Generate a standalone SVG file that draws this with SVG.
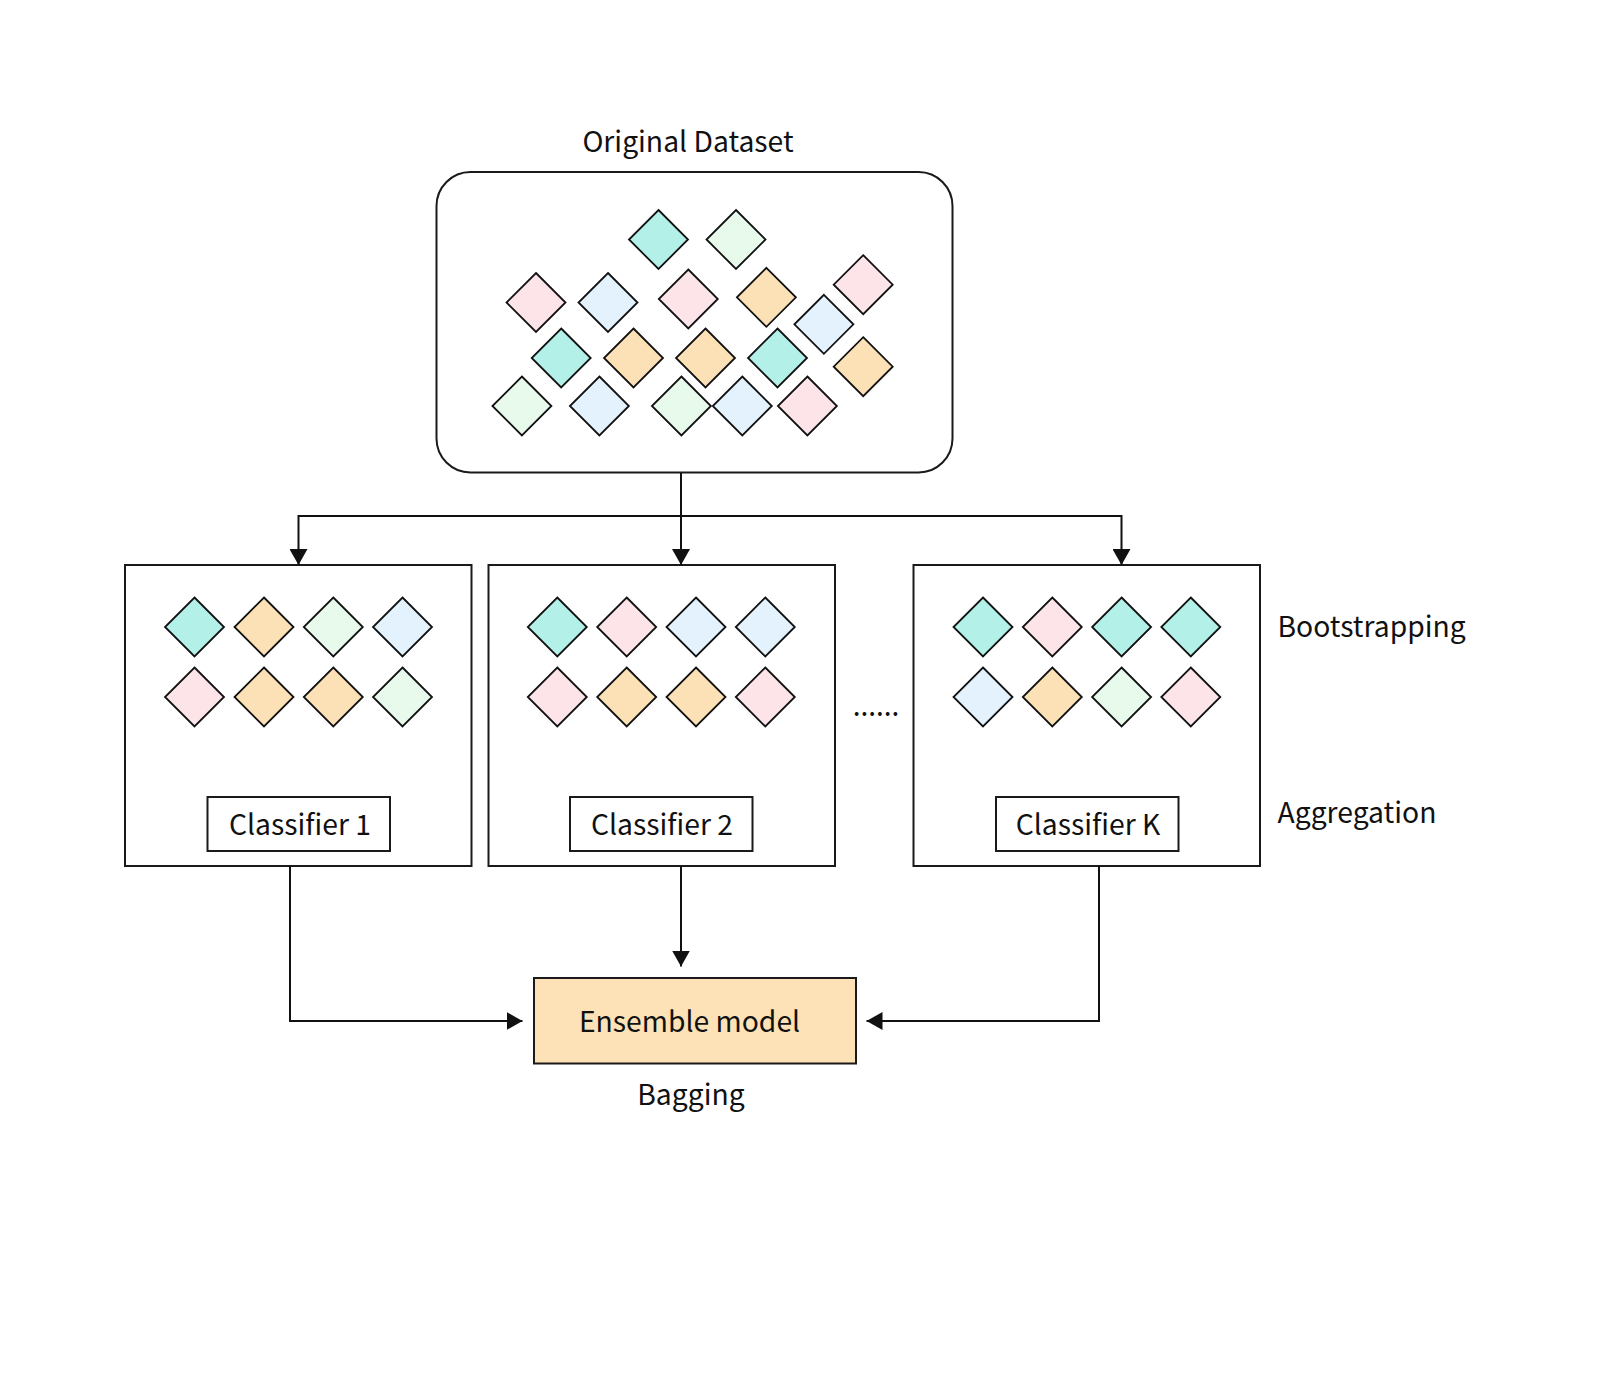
<svg xmlns="http://www.w3.org/2000/svg" width="1600" height="1399" viewBox="0 0 1600 1399">
<style>
  text { font-family: 'Noto Sans CJK SC', 'Noto Sans', sans-serif; fill: #111; }
  .lbl { font-size: 28.3px; }
  .box { fill: #fff; stroke: #1a1a1a; stroke-width: 2; }
  .d { stroke: #111; stroke-width: 1.8; stroke-linejoin: miter; }
  .teal { fill: #b3f0e8; }
  .green { fill: #e7faec; }
  .pink { fill: #fce4e9; }
  .blue { fill: #e3f2fc; }
  .orange { fill: #fde1b6; }
  .conn { fill: none; stroke: #111; stroke-width: 2; }
</style>
<defs>
  <path id="dm" d="M0,-29.5 L29.5,0 L0,29.5 L-29.5,0 Z"/>
  <marker id="arr" viewBox="0 0 16 18" refX="16" refY="9" markerWidth="16" markerHeight="18" markerUnits="userSpaceOnUse" orient="auto">
    <path d="M0,0 L16,9 L0,18 Z" fill="#111"/>
  </marker>
</defs>
<rect width="1600" height="1399" fill="#fff"/>

<g id="original-dataset">
  <text class="lbl" x="688" y="151.5" text-anchor="middle">Original Dataset</text>
  <rect class="box" x="436.5" y="172" width="516" height="300.5" rx="34" ry="34"/>
  <use href="#dm" class="d teal" x="658.5" y="239.5"/>
  <use href="#dm" class="d green" x="736" y="239.5"/>
  <use href="#dm" class="d pink" x="536" y="302.5"/>
  <use href="#dm" class="d blue" x="608" y="302.5"/>
  <use href="#dm" class="d pink" x="688.3" y="299"/>
  <use href="#dm" class="d orange" x="766.4" y="297.3"/>
  <use href="#dm" class="d pink" x="863.2" y="284.7"/>
  <use href="#dm" class="d blue" x="823.9" y="324.3"/>
  <use href="#dm" class="d teal" x="561.2" y="358"/>
  <use href="#dm" class="d orange" x="633.5" y="358"/>
  <use href="#dm" class="d orange" x="705.5" y="358"/>
  <use href="#dm" class="d teal" x="777.5" y="358"/>
  <use href="#dm" class="d orange" x="863.2" y="366.7"/>
  <use href="#dm" class="d green" x="521.9" y="406"/>
  <use href="#dm" class="d blue" x="599.4" y="406"/>
  <use href="#dm" class="d green" x="681.4" y="406"/>
  <use href="#dm" class="d blue" x="742.3" y="406"/>
  <use href="#dm" class="d pink" x="807.4" y="406"/>
</g>

<g id="classifier-1">
  <rect class="box" x="125" y="565" width="346.5" height="301"/>
  <use href="#dm" class="d teal" x="194.5" y="627"/>
  <use href="#dm" class="d orange" x="264" y="627"/>
  <use href="#dm" class="d green" x="333.3" y="627"/>
  <use href="#dm" class="d blue" x="402.5" y="627"/>
  <use href="#dm" class="d pink" x="194.5" y="697"/>
  <use href="#dm" class="d orange" x="264" y="697"/>
  <use href="#dm" class="d orange" x="333.3" y="697"/>
  <use href="#dm" class="d green" x="402.5" y="697"/>
  <rect class="box" x="207.5" y="797" width="182.5" height="54"/>
  <text class="lbl" x="300" y="834.5" text-anchor="middle">Classifier 1</text>
</g>

<g id="classifier-2">
  <rect class="box" x="488.5" y="565" width="346.5" height="301"/>
  <use href="#dm" class="d teal" x="557.3" y="627"/>
  <use href="#dm" class="d pink" x="626.7" y="627"/>
  <use href="#dm" class="d blue" x="696" y="627"/>
  <use href="#dm" class="d blue" x="765.3" y="627"/>
  <use href="#dm" class="d pink" x="557.3" y="697"/>
  <use href="#dm" class="d orange" x="626.7" y="697"/>
  <use href="#dm" class="d orange" x="696" y="697"/>
  <use href="#dm" class="d pink" x="765.3" y="697"/>
  <rect class="box" x="570" y="797" width="182.5" height="54"/>
  <text class="lbl" x="662" y="834.5" text-anchor="middle">Classifier 2</text>
</g>

<g id="ellipsis">
  <text x="876" y="716" text-anchor="middle" style="font-size:28px">......</text>
</g>

<g id="classifier-k">
  <rect class="box" x="913.5" y="565" width="346.5" height="301"/>
  <use href="#dm" class="d teal" x="983" y="627"/>
  <use href="#dm" class="d pink" x="1052.3" y="627"/>
  <use href="#dm" class="d teal" x="1121.6" y="627"/>
  <use href="#dm" class="d teal" x="1190.8" y="627"/>
  <use href="#dm" class="d blue" x="983" y="697"/>
  <use href="#dm" class="d orange" x="1052.3" y="697"/>
  <use href="#dm" class="d green" x="1121.6" y="697"/>
  <use href="#dm" class="d pink" x="1190.8" y="697"/>
  <rect class="box" x="996" y="797" width="182.5" height="54"/>
  <text class="lbl" x="1088" y="834.5" text-anchor="middle">Classifier K</text>
</g>

<g id="side-labels">
  <text class="lbl" x="1277.5" y="636.5">Bootstrapping</text>
  <text class="lbl" x="1277.5" y="823">Aggregation</text>
</g>

<g id="ensemble-model">
  <rect x="534" y="978" width="322" height="85.5" fill="#fde2b7" stroke="#1a1a1a" stroke-width="2"/>
  <text class="lbl" x="689.5" y="1032" text-anchor="middle">Ensemble model</text>
  <text class="lbl" x="691" y="1104.5" text-anchor="middle">Bagging</text>
</g>

<g id="connectors">
  <path class="conn" d="M681,473 V516"/>
  <path class="conn" d="M681,516 H298.5 V565" marker-end="url(#arr)"/>
  <path class="conn" d="M681,516 V565" marker-end="url(#arr)"/>
  <path class="conn" d="M681,516 H1121.5 V565" marker-end="url(#arr)"/>
  <path class="conn" d="M290,866 V1021 H522.5" marker-end="url(#arr)"/>
  <path class="conn" d="M681,866 V966.5" marker-end="url(#arr)"/>
  <path class="conn" d="M1099,866 V1021 H866.5" marker-end="url(#arr)"/>
</g>
</svg>
